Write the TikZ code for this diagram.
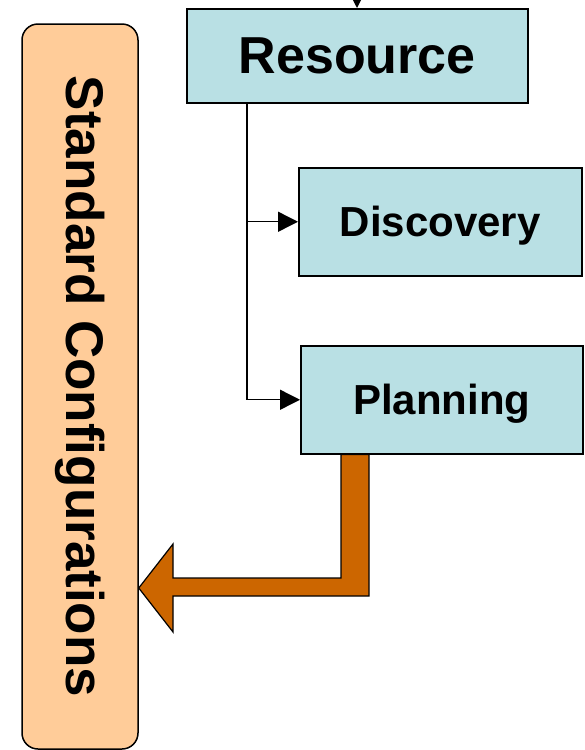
\documentclass[tikz,border=0pt]{standalone}
\usepackage{fontspec}
\setmainfont{Liberation Sans}
\usetikzlibrary{arrows.meta}

\definecolor{boxblue}{RGB}{185,224,228}
\definecolor{peach}{RGB}{255,204,153}
\definecolor{rust}{RGB}{204,102,0}

\tikzset{
  stepbox/.style={draw=black, line width=1.5pt, fill=boxblue, inner sep=0pt,
    text depth=0pt, font=\bfseries, anchor=north west},
  link/.style={draw=black, line width=1.4pt, -{Triangle[length=20pt,width=20pt]}},
}

\begin{document}
\begin{tikzpicture}[x=1pt, y=-1pt]
  \useasboundingbox (0,0) rectangle (585,750);

  % side panel with vertical label
  \node[draw=black, line width=1.5pt, fill=peach, rounded corners=16pt,
        minimum width=116pt, minimum height=725pt, inner sep=0pt]
        (cfg) at (80,386.5) {};
  \node[rotate=-90, font=\bfseries\fontsize{53}{53}\selectfont] (cfgtext)
        at (cfg.center) {Standard Configurations};

  % process boxes
  \node[stepbox, minimum width=341pt, minimum height=94pt,
        font=\bfseries\fontsize{52}{52}\selectfont] (res) at (186,8) {Resource};
  \node[stepbox, minimum width=283pt, minimum height=108pt,
        font=\bfseries\fontsize{42}{42}\selectfont] (disc) at (298,167) {Discovery};
  \node[stepbox, minimum width=282pt, minimum height=108pt,
        font=\bfseries\fontsize{42}{42}\selectfont] (plan) at (300,345) {Planning};

  % incoming arrow from above
  \coordinate (entry) at (357,-20);
  \draw[link] (entry) -- (entry |- res.north);

  % branching connector from Resource
  \coordinate (spine) at (247,102);
  \draw[link] (spine |- res.south) |- (disc.west);
  \draw[link] (spine |- res.south) |- (plan.west);

  % broad bent arrow from Planning into the side panel
  \coordinate (a1) at (341,0);
  \coordinate (a2) at (369,0);
  \filldraw[fill=rust, draw=black, line width=1.2pt, line join=miter]
    (a1 |- plan.south) -- (a2 |- plan.south) -- (369,596) -- (173,596)
    -- (173,632) -- (cfg.east |- 0,588) -- (173,544) -- (173,578)
    -- (341,578) -- cycle;
\end{tikzpicture}
\end{document}
